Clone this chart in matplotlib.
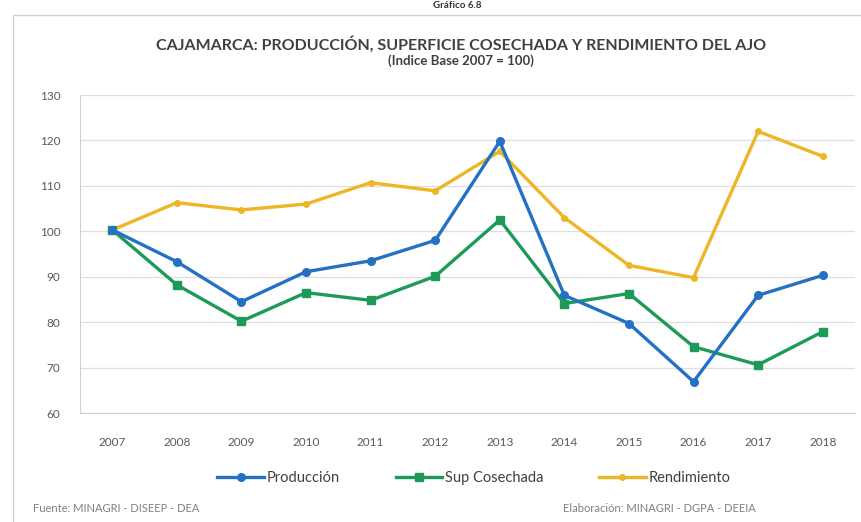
import matplotlib.pyplot as plt
from matplotlib.patches import Rectangle

plt.rcParams['font.family'] = ['Lato', 'DejaVu Sans']

# Data
years = ['2007', '2008', '2009', '2010', '2011', '2012', '2013', '2014', '2015', '2016', '2017', '2018']
produccion = [100.3, 93.3, 84.5, 91.1, 93.5, 98.0, 119.8, 85.9, 79.7, 66.9, 85.9, 90.3]
sup_cosechada = [100.3, 88.2, 80.2, 86.5, 84.8, 90.1, 102.5, 84.1, 86.3, 74.6, 70.6, 77.9]
rendimiento = [100.3, 106.3, 104.7, 106.0, 110.7, 108.9, 117.6, 103.0, 92.5, 89.8, 122.0, 116.5]

fig = plt.figure(figsize=(8.62, 5.22), dpi=100)

# chart frame
fig.patches.append(Rectangle((13 / 862, -0.1), 1.2, 1 - 15 / 522 + 0.1, transform=fig.transFigure,
                             fill=False, edgecolor='#d0d0d0', linewidth=1.0))

ax = fig.add_axes([80 / 862, 1 - 413 / 522, (855 - 80) / 862, (413 - 95) / 522])

x = range(len(years))
ax.plot(x, produccion, color='#2471C4', linewidth=2.4, marker='o', markersize=5.5, label='Producción', zorder=4)
ax.plot(x, sup_cosechada, color='#1D9A57', linewidth=2.4, marker='s', markersize=5.5, label='Sup Cosechada', zorder=3)
ax.plot(x, rendimiento, color='#EDB626', linewidth=2.4, marker='o', markersize=4, label='Rendimiento', zorder=2)

ax.set_xlim(-0.5, len(years) - 0.5)
ax.set_ylim(60, 130)
ax.set_yticks(range(60, 131, 10))
ax.set_xticks(list(x))
ax.set_xticklabels(years)
ax.grid(axis='y', color='#dedede', linewidth=0.9)
ax.set_axisbelow(True)
for s in ['top', 'right']:
    ax.spines[s].set_visible(False)
ax.spines['left'].set_color('#d0d0d0')
ax.spines['bottom'].set_color('#d0d0d0')
ax.tick_params(axis='both', length=0, labelsize=8.5, labelcolor='#595959')
ax.tick_params(axis='x', pad=17)
ax.tick_params(axis='y', pad=14)

fig.text(0.535, 1 - 44 / 522, 'CAJAMARCA: PRODUCCIÓN, SUPERFICIE COSECHADA Y RENDIMIENTO DEL AJO',
         ha='center', va='center', fontsize=11.5, fontweight='bold', color='#404040')
fig.text(0.535, 1 - 61 / 522, '(Indice Base 2007 = 100)', ha='center', va='center',
         fontsize=9.5, fontweight='bold', color='#404040')
fig.text(0.53, 1 - 5 / 522, 'Gráfico 6.8', ha='center', va='center', fontsize=7, fontweight='bold', color='#303030')

fig.legend(loc='center', bbox_to_anchor=(0.55, 1 - 478 / 522), ncol=3, frameon=False,
           fontsize=10.5, handlelength=3.2, columnspacing=3.8, handletextpad=0.2, labelcolor='#404040')

fig.text(33 / 862, 1 - 508 / 522, 'Fuente: MINAGRI - DISEEP - DEA', ha='left', va='center',
         fontsize=8, color='#808080')
fig.text(563 / 862, 1 - 508 / 522, 'Elaboración: MINAGRI - DGPA - DEEIA', ha='left', va='center',
         fontsize=8, color='#808080')

fig.savefig('out.png', dpi=100)
